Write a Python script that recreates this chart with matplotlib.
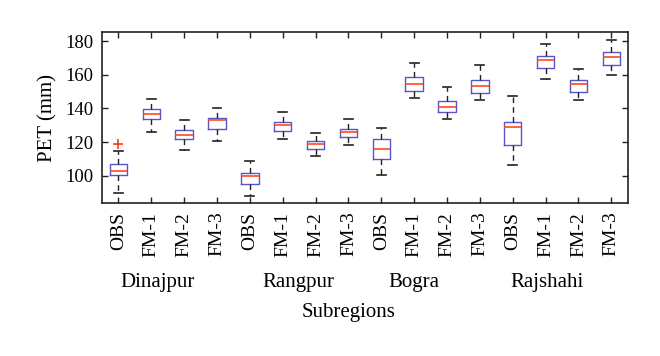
import numpy as np
import matplotlib.pyplot as plt

plt.rcParams['font.family'] = ['Liberation Serif', 'DejaVu Serif']

tick_labels = ['OBS', 'FM-1', 'FM-2', 'FM-3'] * 4
regions = ['Dinajpur', 'Rangpur', 'Bogra', 'Rajshahi']
region_pos = [2.19, 6.48, 10.0, 14.03]

# box statistics
whislo = [89.7, 126.2, 115.3, 120.7, 87.7, 122.1, 111.7, 118.1,
          100.2, 146.3, 133.8, 144.9, 106.4, 157.6, 144.9, 159.6]
q1 = [100.2, 133.4, 121.7, 128.0, 95.1, 126.8, 115.7, 122.7,
      110.2, 150.6, 137.7, 149.2, 118.5, 163.7, 149.8, 165.5]
med = [102.8, 136.5, 124.4, 133.0, 99.8, 130.0, 118.7, 126.0,
       115.9, 154.6, 141.1, 153.0, 128.8, 168.5, 154.2, 170.7]
q3 = [107.2, 139.9, 127.4, 134.4, 101.8, 132.2, 120.9, 128.0,
      121.7, 158.4, 144.5, 156.8, 132.2, 171.1, 156.8, 173.3]
whishi = [114.5, 145.7, 133.2, 140.3, 108.8, 137.9, 125.4, 133.4,
          128.6, 167.1, 152.8, 165.9, 147.5, 178.2, 163.3, 180.8]
outliers = {0: [118.7]}

stats = []
for i in range(16):
    stats.append(dict(whislo=whislo[i], q1=q1[i], med=med[i], q3=q3[i],
                      whishi=whishi[i], fliers=outliers.get(i, [])))

fig = plt.figure(figsize=(6.6, 3.56), dpi=100)
ax = fig.add_axes([102 / 660, 1 - 203.3 / 356, (627.7 - 102) / 660, (203.3 - 32.3) / 356])

ax.bxp(stats, positions=np.arange(1, 17), widths=0.53,
       boxprops=dict(color='#5a55c8', linewidth=1.0),
       medianprops=dict(color='#ff4a1c', linewidth=1.2),
       whiskerprops=dict(color='#222222', linewidth=1.0, linestyle=(0, (4, 3))),
       capprops=dict(color='#222222', linewidth=1.2),
       capwidths=0.27,
       flierprops=dict(marker='+', markeredgecolor='#ff3a1a', markersize=7, markeredgewidth=1.2))

ax.set_xlim(0.5, 16.5)
ax.set_ylim(83.6, 185.2)
ax.set_yticks([100, 120, 140, 160, 180])
ax.set_xticks(np.arange(1, 17))
ax.set_xticklabels(tick_labels, rotation=90, fontsize=14)
ax.tick_params(axis='y', labelsize=13.5)
ax.tick_params(direction='in', top=True, right=True, length=4, width=1.0, color='#222222')
ax.tick_params(axis='x', pad=6)
ax.tick_params(axis='y', pad=6)
for s in ax.spines.values():
    s.set_linewidth(1.2)
    s.set_color('#222222')

ax.set_ylabel('PET (mm)', fontsize=15, labelpad=6)

label_y = -(282 - 203.3) / 171
for name, pos in zip(regions, region_pos):
    ax.text(pos, label_y, name, transform=ax.get_xaxis_transform(), fontsize=15,
            ha='center', va='center')

fig.text(349 / 660, 1 - 312 / 356, 'Subregions', fontsize=15, ha='center', va='center')

fig.savefig('out.png', dpi=100)
